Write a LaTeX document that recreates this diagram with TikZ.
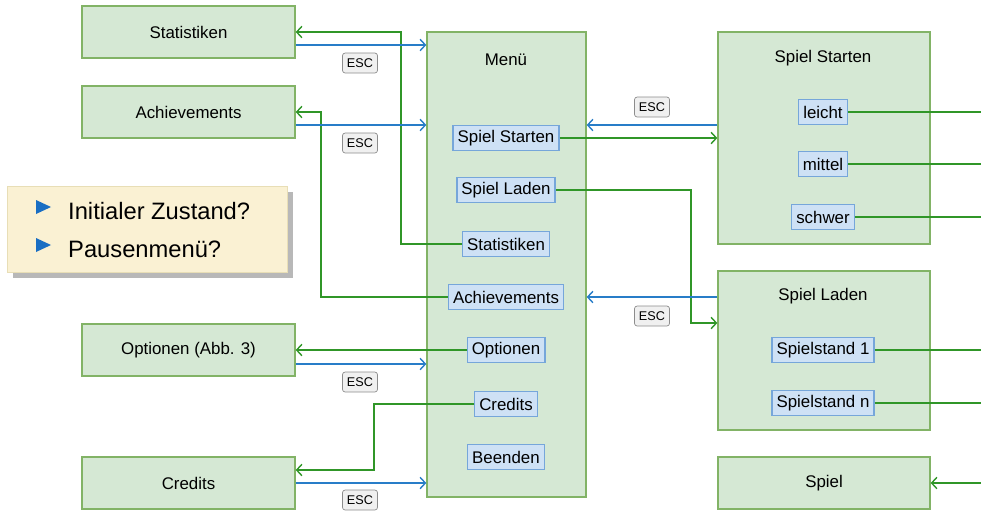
\documentclass[tikz,border=0pt]{standalone}
\usepackage{fontspec}
\setmainfont{Liberation Sans}
\usepackage{tikz}
\usetikzlibrary{arrows.meta,positioning,calc,shadows}
\definecolor{boxgreen}{RGB}{213,232,212}
\definecolor{boxgreenline}{RGB}{130,179,102}
\definecolor{itemblue}{RGB}{206,225,245}
\definecolor{itembordblue}{RGB}{118,166,218}
\definecolor{linkgreen}{RGB}{48,150,40}
\definecolor{linkblue}{RGB}{40,125,200}
\definecolor{hintfill}{RGB}{250,241,211}
\definecolor{hintline}{RGB}{232,222,182}
\definecolor{hinttri}{RGB}{25,110,195}

\tikzset{
  statebox/.style={draw=boxgreenline, fill=boxgreen, thick, minimum width=4.26cm, minimum height=1.04cm},
  groupbox/.style={draw=boxgreenline, fill=boxgreen, thick, minimum width=4.24cm},
  menuitem/.style={draw=itembordblue, fill=itemblue, thick, inner xsep=2.6pt, inner ysep=0pt, minimum height=0.5cm},
  escbox/.style={draw=black!45, fill=black!6, rounded corners=1.5pt, font=\fontsize{7.2}{8}\selectfont, inner sep=1.5pt, minimum width=0.7cm, minimum height=0.4cm},
  hinttext/.style={anchor=west, font=\fontsize{13.5}{16}\selectfont},
  fwd/.style={linkgreen, thick, -{Straight Barb[length=3pt,width=6.5pt]}},
  back/.style={linkblue, thick, -{Straight Barb[length=3pt,width=6.5pt]}},
  plain/.style={linkgreen, thick}
}

\begin{document}
\begin{tikzpicture}[x=0.02cm, y=-0.02cm, every node/.style={font=\fontsize{9.6}{11.5}\selectfont}]
  \useasboundingbox (0,0) rectangle (981,512);

  % left column
  \node[statebox] (stat) at (188.5,32) {Statistiken};
  \node[statebox] (ach)  at (188.5,112) {Achievements};
  \node[statebox] (opt)  at (188.5,350) {Optionen (Abb. 3)};
  \node[statebox] (cred) at (188.5,483) {Credits};

  % hint box
  \node[draw=hintline, fill=hintfill, minimum width=5.6cm, minimum height=1.72cm,
        drop shadow={shadow xshift=0.12cm, shadow yshift=-0.12cm, fill=black!28, opacity=1}]
        (hints) at (147,229) {};
  \node[hinttext] (hintA) at (62,211) {Initialer Zustand?};
  \node[hinttext] (hintB) at (62,249) {Pausenmenü?};
  \fill[hinttri] ($(hintA.west)+(-26,-11)$) -- ++(15,7) -- ++(-15,7) -- cycle;
  \fill[hinttri] ($(hintB.west)+(-26,-11)$) -- ++(15,7) -- ++(-15,7) -- cycle;

  % main menu
  \node[draw=boxgreenline, fill=boxgreen, thick, minimum width=3.18cm, minimum height=9.3cm] (menu) at (506.5,264.5) {};
  \node (menutitle) at (506,60) {Menü};
  \node[menuitem] (mstart) at (506,138) {Spiel Starten};
  \node[menuitem] (mload)  at (506,190) {Spiel Laden};
  \node[menuitem] (mstat)  at (506,244) {Statistiken};
  \node[menuitem] (mach)   at (506,297) {Achievements};
  \node[menuitem] (mopt)   at (506,350) {Optionen};
  \node[menuitem] (mcred)  at (506,404) {Credits};
  \node[menuitem] (mquit)  at (506,457) {Beenden};

  % right column
  \node[groupbox, minimum height=4.24cm] (start) at (824,138) {};
  \node (starttitle) at (823,58) {Spiel Starten};
  \node[menuitem] (easy)   at (823,112) {leicht};
  \node[menuitem] (medium) at (823,164) {mittel};
  \node[menuitem] (hard)   at (823,217) {schwer};
  \node[groupbox, minimum height=3.18cm] (load) at (824,350.5) {};
  \node (loadtitle) at (823,296) {Spiel Laden};
  \node[menuitem] (slot1) at (823,350) {Spielstand 1};
  \node[menuitem] (slotn) at (823,403) {Spielstand n};
  \node[groupbox, minimum height=1.04cm] (game) at (824,483) {Spiel};

  \coordinate (rim) at (981,0);
  \coordinate (statx) at (401,0);
  \coordinate (achx) at (321,0);
  \coordinate (credx) at (374,0);
  \coordinate (loadx) at (691,0);

  % menu -> left screens
  \draw[fwd] (mstat.west) -| (statx |- stat.east) -- (stat.east);
  \draw[fwd] (mach.west) -| (achx |- ach.east) -- (ach.east);
  \draw[fwd] (mopt.west) -- (opt.east);
  \draw[fwd] (mcred.west) -- (credx |- mcred.west) -- ($(credx |- cred.east)+(0,-13)$) -- ($(cred.east)+(0,-13)$);

  % left screens back to menu
  \draw[back] ($(stat.east)+(0,13)$) coordinate (s1) -- (menu.west |- s1);
  \draw[back] ($(ach.east)+(0,13)$) coordinate (s2) -- (menu.west |- s2);
  \draw[back] ($(opt.east)+(0,14)$) coordinate (s3) -- (menu.west |- s3);
  \draw[back] (cred.east) -- (menu.west |- cred.east);
  \node[escbox] (esc1) at (360,63) {ESC};
  \node[escbox] (esc2) at (360,143) {ESC};
  \node[escbox] (esc3) at (360,382) {ESC};
  \node[escbox] (esc4) at (360,500) {ESC};

  % menu -> right screens
  \draw[fwd] (mstart.east) -- (start.west |- mstart.east);
  \draw[back] ($(start.west)+(0,-13)$) coordinate (s5) -- (menu.east |- s5);
  \draw[fwd] (mload.east) -| ($(loadx |- load.west)+(0,-27.5)$) -- ($(load.west)+(0,-27.5)$);
  \draw[back] ($(load.west)+(0,-53.5)$) coordinate (s6) -- (menu.east |- s6);
  \node[escbox] (esc5) at (652,107) {ESC};
  \node[escbox] (esc6) at (652,316) {ESC};

  % onward to the game
  \draw[plain] (easy.east) -- (easy.east -| rim);
  \draw[plain] (medium.east) -- (medium.east -| rim);
  \draw[plain] (hard.east) -- (hard.east -| rim);
  \draw[plain] (slot1.east) -- (slot1.east -| rim);
  \draw[plain] (slotn.east) -- (slotn.east -| rim);
  \draw[fwd] (game.east -| rim) -- (game.east);
\end{tikzpicture}
\end{document}
